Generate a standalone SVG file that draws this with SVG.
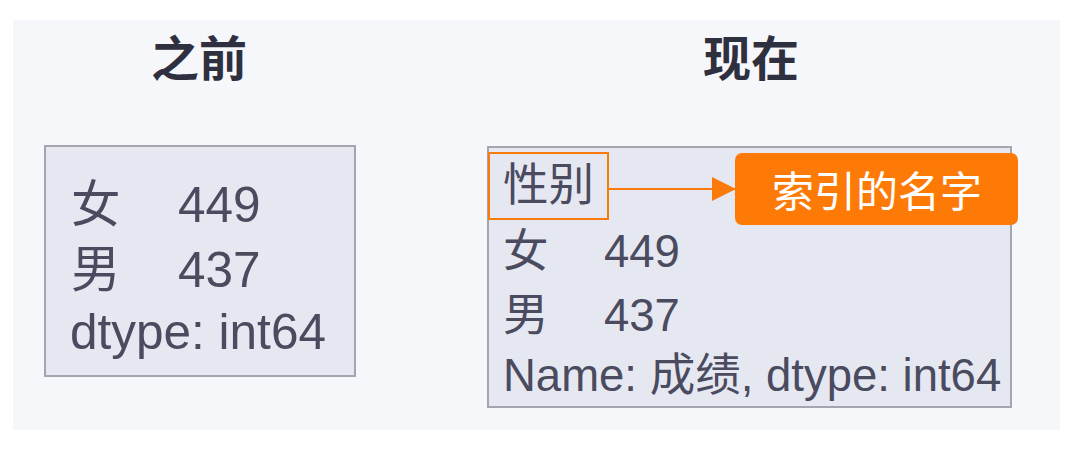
<svg xmlns="http://www.w3.org/2000/svg" width="1084" height="459" viewBox="0 0 1084 459">
<defs>
<style>
.t{font-family:"Liberation Sans","Noto Sans CJK SC",sans-serif;fill:#4a4b5f;}
.title{font-family:"Noto Sans CJK SC",sans-serif;font-weight:bold;font-size:48px;fill:#2e2f3f;text-anchor:middle;}
.box{fill:#e6e8f1;stroke:#a4a5ae;stroke-width:2;}
.L{font-size:49.5px;}
.R{font-size:45.5px;}
</style>
<marker id="ah" viewBox="0 0 10 10" refX="10" refY="5" markerWidth="25" markerHeight="24" markerUnits="userSpaceOnUse" orient="auto">
<path d="M0,0 L10,5 L0,10 Z" fill="#fa7a0b"/>
</marker>
</defs>
<rect x="0" y="0" width="1084" height="459" fill="#ffffff"/>
<rect x="13" y="20" width="1047" height="410" fill="#f6f7fb"/>

<g id="title-before"><text class="title" x="199" y="76">之前</text></g>
<g id="title-now"><text class="title" x="751" y="76">现在</text></g>

<g id="before">
<rect class="box" x="45" y="146" width="310" height="230"/>
<text class="t L" x="71" y="222">女</text><text class="t L" x="178" y="222">449</text>
<text class="t L" x="71" y="287">男</text><text class="t L" x="178" y="287">437</text>
<text class="t L" x="70" y="349">dtype: int64</text>
</g>

<g id="now">
<rect class="box" x="488" y="147" width="523" height="260"/>
<text class="t R" x="503" y="267">女</text><text class="t R" x="604" y="267">449</text>
<text class="t R" x="503" y="331">男</text><text class="t R" x="604" y="331">437</text>
<text class="t R" x="503" y="391">Name: 成绩, dtype: int64</text>
</g>

<g id="index-name">
<rect x="489" y="153" width="119" height="66" fill="none" stroke="#fa7a0b" stroke-width="2"/>
<text class="t R" x="503" y="201">性别</text>
</g>

<g id="label">
<rect x="735" y="153" width="283" height="72" rx="7" fill="#fe7a06"/>
<text x="877" y="207" font-family="'Noto Sans CJK SC',sans-serif" font-size="42" fill="#ffffff" text-anchor="middle">索引的名字</text>
</g>

<g id="connectors">
<line x1="608" y1="189" x2="736" y2="189" stroke="#fa7a0b" stroke-width="2" marker-end="url(#ah)"/>
</g>
</svg>
